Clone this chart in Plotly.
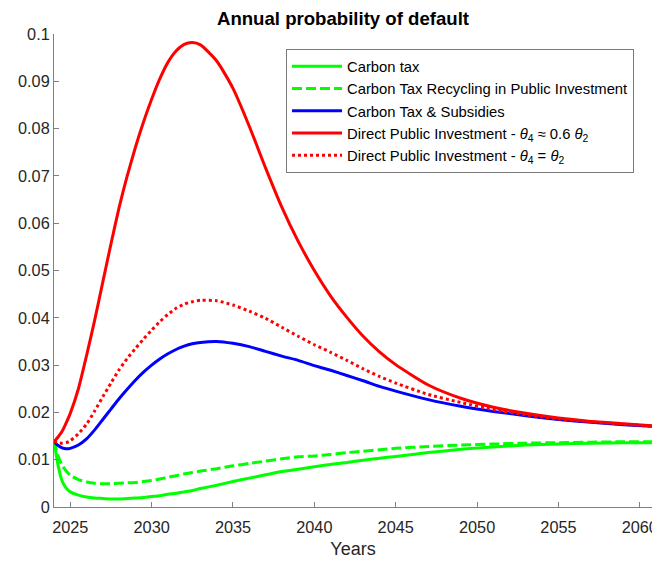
import plotly.graph_objects as go

years = [2024, 2024.25, 2024.5, 2024.75, 2025, 2025.5, 2026, 2026.5, 2027, 2027.5,
         2028, 2028.5, 2029, 2029.5, 2030, 2030.5, 2031, 2031.5, 2032, 2032.5, 2033,
         2034, 2035, 2036, 2037, 2038, 2039, 2040, 2041, 2042, 2043, 2044, 2045,
         2047, 2049, 2051, 2053, 2055, 2057, 2059, 2061]

carbon_tax = [0.0140, 0.0088, 0.0055, 0.0040, 0.0032, 0.0025, 0.0021, 0.0019, 0.0018, 0.0017,
              0.0017, 0.0018, 0.0019, 0.0020, 0.0022, 0.0024, 0.0027, 0.0029, 0.0032, 0.0035, 0.0039,
              0.0046, 0.0054, 0.0061, 0.0068, 0.0075, 0.0080, 0.0085, 0.0090, 0.0094, 0.0099, 0.0103, 0.0107,
              0.0115, 0.0122, 0.0127, 0.0131, 0.0133, 0.0135, 0.0136, 0.0136]

carbon_tax_recycling = [0.0140, 0.0108, 0.0088, 0.0076, 0.0067, 0.0058, 0.0053, 0.0050, 0.0049, 0.0049,
                        0.0050, 0.0051, 0.0052, 0.0054, 0.0056, 0.0059, 0.0063, 0.0066, 0.0070, 0.0073, 0.0076,
                        0.0081, 0.0087, 0.0092, 0.0097, 0.0102, 0.0106, 0.0108, 0.0111, 0.0115, 0.0118, 0.0121, 0.0124,
                        0.0128, 0.0131, 0.0133, 0.0135, 0.0136, 0.0137, 0.0138, 0.0138]

carbon_tax_subsidies = [0.0138, 0.0130, 0.0125, 0.0123, 0.0124, 0.0131, 0.0144, 0.0163, 0.0185, 0.0207,
                        0.0229, 0.0249, 0.0268, 0.0285, 0.0300, 0.0313, 0.0324, 0.0333, 0.0340, 0.0345, 0.0348,
                        0.0350, 0.0346, 0.0339, 0.0329, 0.0319, 0.0310, 0.0299, 0.0289, 0.0278, 0.0267, 0.0255, 0.0245,
                        0.0227, 0.0213, 0.0202, 0.0193, 0.0185, 0.0179, 0.0174, 0.0170]

direct_inv_06 = [0.0138, 0.0148, 0.0160, 0.0178, 0.0198, 0.0250, 0.0320, 0.0395, 0.0476, 0.0556,
                 0.0633, 0.0700, 0.0760, 0.0814, 0.0862, 0.0905, 0.0940, 0.0964, 0.0978, 0.0982, 0.0977,
                 0.0943, 0.0885, 0.0805, 0.0717, 0.0634, 0.0562, 0.0500, 0.0446, 0.0401, 0.0361, 0.0328, 0.0301,
                 0.0258, 0.0230, 0.0211, 0.0198, 0.0188, 0.0181, 0.0176, 0.0171]

direct_inv_eq = [0.0138, 0.0136, 0.0135, 0.0136, 0.0140, 0.0155, 0.0175, 0.0203, 0.0233, 0.0262,
                 0.0290, 0.0314, 0.0335, 0.0355, 0.0374, 0.0392, 0.0407, 0.0420, 0.0429, 0.0434, 0.0437,
                 0.0436, 0.0427, 0.0414, 0.0399, 0.0380, 0.0361, 0.0343, 0.0327, 0.0310, 0.0292, 0.0276, 0.0262,
                 0.0238, 0.0221, 0.0206, 0.0195, 0.0186, 0.0180, 0.0175, 0.0170]

series_names = [
    "Carbon tax",
    "Carbon Tax Recycling in Public Investment",
    "Carbon Tax & Subsidies",
    "Direct Public Investment - <i>θ</i><sub>4</sub> ≈ 0.6 <i>θ</i><sub>2</sub>",
    "Direct Public Investment - <i>θ</i><sub>4</sub> = <i>θ</i><sub>2</sub>",
]
x_tick_vals = [2025, 2030, 2035, 2040, 2045, 2050, 2055, 2060]
x_tick_text = ["2025", "2030", "2035", "2040", "2045", "2050", "2055", "2060"]
y_tick_vals = [0, 0.01, 0.02, 0.03, 0.04, 0.05, 0.06, 0.07, 0.08, 0.09, 0.1]
y_tick_text = ["0", "0.01", "0.02", "0.03", "0.04", "0.05", "0.06", "0.07", "0.08", "0.09", "0.1"]

series = [carbon_tax, carbon_tax_recycling, carbon_tax_subsidies, direct_inv_06, direct_inv_eq]
colors = ["#00FF00", "#00FF00", "#0000FF", "#FF0000", "#FF0000"]
dashes = ["solid", "10px,4px", "solid", "solid", "3px,3px"]

fig = go.Figure()
for name, vals, c, d in zip(series_names, series, colors, dashes):
    fig.add_trace(go.Scatter(x=years, y=vals, mode="lines", name=name,
                             line=dict(color=c, width=3, dash=d, shape="spline", smoothing=0.6)))

font_family = "Liberation Sans, Arial, sans-serif"
fig.update_layout(
    width=652, height=563,
    margin=dict(l=54, r=0, t=34, b=56),
    paper_bgcolor="white", plot_bgcolor="white",
    font=dict(family=font_family, color="#262626", size=16),
    showlegend=True,
    legend=dict(x=0.388, y=0.968, xanchor="left", yanchor="top",
                bgcolor="white", bordercolor="#7a7a7a", borderwidth=1,
                font=dict(size=14.8, color="#000000", family=font_family),
                itemwidth=50, tracegroupgap=0),
    xaxis=dict(range=[2024, 2060.75], tickvals=x_tick_vals, ticktext=x_tick_text,
               ticks="inside", ticklen=5, automargin=False, ticklabeloverflow="allow",
               ticklabelstandoff=5,
               tickcolor="#808080", showline=True, linecolor="#808080", linewidth=1,
               showgrid=False, zeroline=False, mirror=False,
               tickfont=dict(size=16.3, color="#262626"),
               title=dict(text="Years", font=dict(size=18, color="#262626"), standoff=7)),
    yaxis=dict(range=[0, 0.1], tickvals=y_tick_vals, ticktext=y_tick_text, ticks="inside", ticklen=5,
               automargin=False,
               tickcolor="#808080", showline=True, linecolor="#808080", linewidth=1,
               showgrid=False, zeroline=False, mirror=False,
               tickfont=dict(size=16.3, color="#262626")),
    title=dict(text="<b>Annual probability of default</b>", x=(343 - 54) / 598, xref="paper",
               xanchor="center", y=1 - 18 / 563, yanchor="middle",
               font=dict(size=18.6, color="#000000", family=font_family)),
)

fig.write_html("out.html", config={"displayModeBar": False},
               post_script="document.body.style.margin='0';")
